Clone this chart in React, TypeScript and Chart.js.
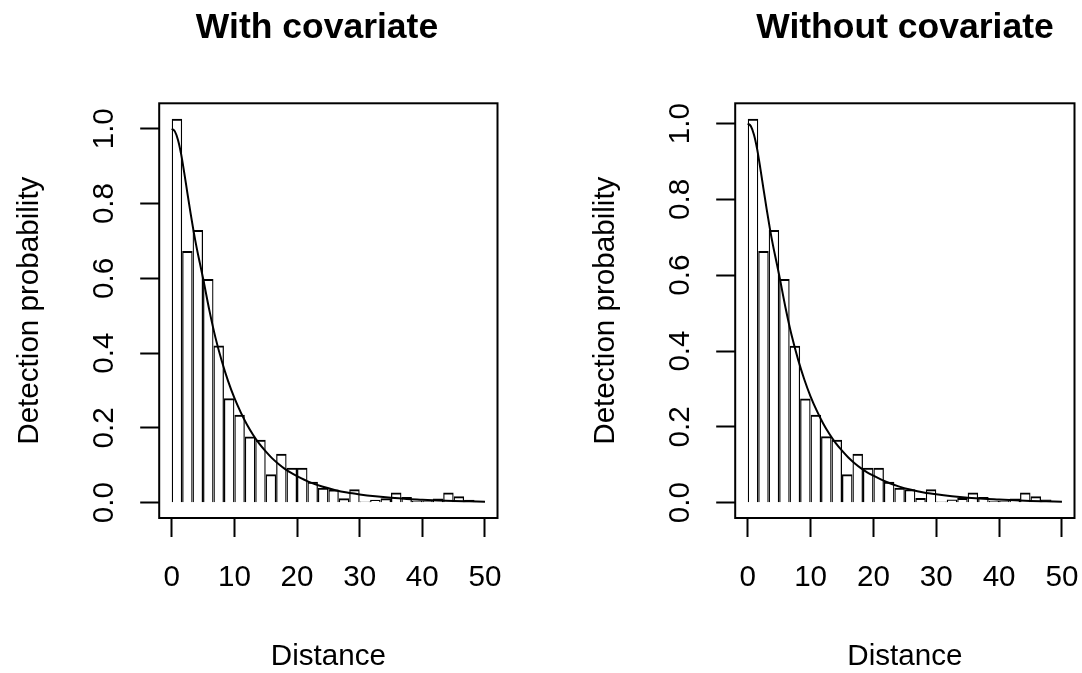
import React, { useEffect, useRef } from 'react';
import { Chart, registerables } from 'chart.js';

Chart.register(...registerables);

// ---- data ----
const binWidth = 50 / 30;
const barsWith = [1.027, 0.673, 0.729, 0.598, 0.42, 0.279, 0.235, 0.177, 0.168, 0.076, 0.131, 0.093, 0.093, 0.056, 0.04, 0.035, 0.012, 0.036, 0.003, 0.008, 0.012, 0.027, 0.015, 0.005, 0.005, 0.011, 0.027, 0.017, 0.008, 0.003];
const barsWithout = [1.013, 0.664, 0.719, 0.59, 0.414, 0.275, 0.232, 0.175, 0.166, 0.075, 0.129, 0.092, 0.092, 0.055, 0.039, 0.035, 0.012, 0.035, 0.003, 0.008, 0.012, 0.027, 0.015, 0.005, 0.005, 0.011, 0.027, 0.017, 0.008, 0.003];
const curveX = [0, 0.5, 1, 1.5, 2, 2.5, 3, 3.5, 4, 4.5, 5, 6, 7, 8, 9, 10, 11, 12, 13, 14, 15, 16, 17, 18, 19, 20, 22, 24, 26, 28, 30, 32.5, 35, 37.5, 40, 42.5, 45, 47.5, 50];
const curveWith = [1.0, 0.993, 0.97, 0.932, 0.882, 0.828, 0.775, 0.725, 0.68, 0.64, 0.6, 0.515, 0.44, 0.378, 0.325, 0.28, 0.242, 0.209, 0.181, 0.157, 0.137, 0.119, 0.104, 0.091, 0.08, 0.071, 0.055, 0.043, 0.034, 0.027, 0.022, 0.017, 0.013, 0.01, 0.008, 0.006, 0.0045, 0.0035, 0.0025];
const curveWithout = [1.0, 0.993, 0.97, 0.932, 0.882, 0.828, 0.775, 0.725, 0.68, 0.64, 0.6, 0.515, 0.44, 0.378, 0.325, 0.28, 0.242, 0.209, 0.181, 0.157, 0.137, 0.119, 0.104, 0.091, 0.08, 0.071, 0.055, 0.043, 0.034, 0.027, 0.022, 0.017, 0.013, 0.01, 0.008, 0.006, 0.0045, 0.0035, 0.0025];
const xTicks = [0, 10, 20, 30, 40, 50];
const yTicks = [0, 0.2, 0.4, 0.6, 0.8, 1.0];
const xLabel = 'Distance';
const yLabel = 'Detection probability';

const FONT = '"Liberation Sans", Arial, Helvetica, sans-serif';
const W = 1082;
const H = 673;

const framePlugin = {
  id: 'frame',
  afterDraw(chart: any, _args: any, opts: any) {
    const { ctx, chartArea: a } = chart;
    ctx.save();
    ctx.strokeStyle = '#000';
    ctx.lineWidth = 2;
    ctx.strokeRect(a.left, a.top, a.right - a.left, a.bottom - a.top);
    ctx.fillStyle = '#000';
    ctx.font = `bold 35.5px ${FONT}`;
    ctx.textAlign = 'center';
    ctx.textBaseline = 'alphabetic';
    ctx.fillText(opts.text, opts.x, 38.3);
    ctx.restore();
  },
};

function Panel(props: { left: number; width: number; bars: number[]; curve: number[]; title: string; titleX: number; padRight: number }) {
  const ref = useRef<HTMLCanvasElement | null>(null);
  useEffect(() => {
    const canvas = ref.current;
    if (!canvas) return;
    const m = Math.max(...props.bars);
    const chart = new Chart(canvas, {
      type: 'bar',
      data: {
        datasets: [
          {
            type: 'line',
            data: curveX.map((x, i) => ({ x, y: props.curve[i] })),
            borderColor: '#000',
            borderWidth: 2,
            pointRadius: 0,
            fill: false,
            cubicInterpolationMode: 'monotone',
          } as any,
          {
            type: 'bar',
            data: props.bars.map((v, i) => ({ x: (i + 0.5) * binWidth, y: v })),
            backgroundColor: 'rgba(0,0,0,0)',
            borderColor: '#000',
            borderWidth: { top: 2, left: 1.25, right: 1.25, bottom: 0 },
            borderSkipped: false,
            barPercentage: 1,
            categoryPercentage: 1,
            inflateAmount: 0,
          } as any,
        ],
      },
      options: {
        animation: false,
        responsive: false,
        maintainAspectRatio: false,
        devicePixelRatio: 1,
        layout: { padding: { left: 0, right: props.padRight, top: 103.3, bottom: 0 } },
        plugins: {
          legend: { display: false },
          tooltip: { enabled: false },
          frame: { text: props.title, x: props.titleX },
        } as any,
        scales: {
          x: {
            type: 'linear',
            min: -2,
            max: 52,
            offset: false,
            afterFit: (s: any) => { s.height = H - 518; s.paddingLeft = 0; s.paddingRight = 0; },
            afterBuildTicks: (s: any) => { s.ticks = xTicks.map((v) => ({ value: v })); },
            grid: { display: true, offset: false, drawOnChartArea: false, drawTicks: true, tickLength: 19, tickWidth: 2, tickColor: '#000' },
            border: { display: false },
            ticks: { color: '#000', font: { family: FONT, size: 29.6 }, padding: 23, maxRotation: 0, minRotation: 0, autoSkip: false },
            title: { display: true, text: xLabel, color: '#000', font: { family: FONT, size: 29.6 }, padding: { top: 0, bottom: -2 } },
          },
          y: {
            type: 'linear',
            min: -0.04 * m,
            max: 1.04 * m,
            afterFit: (s: any) => { s.width = 159.2; s.paddingTop = 0; s.paddingBottom = 0; },
            afterBuildTicks: (s: any) => { s.ticks = yTicks.map((v) => ({ value: v })); },
            grid: { display: true, drawOnChartArea: false, drawTicks: true, tickLength: 19, tickWidth: 2, tickColor: '#000' },
            border: { display: false },
            ticks: {
              color: '#000', font: { family: FONT, size: 29.6 }, padding: 15, minRotation: 90, maxRotation: 90,
              crossAlign: 'center', autoSkip: false,
              callback: (v: any) => Number(v).toFixed(1),
            },
            title: { display: true, text: yLabel, color: '#000', font: { family: FONT, size: 29.6 }, padding: { top: 12, bottom: 0 } },
          },
        },
      } as any,
      plugins: [framePlugin as any],
    });
    return () => chart.destroy();
  }, []);
  return (
    <canvas
      ref={ref}
      width={props.width}
      height={H}
      style={{ position: 'absolute', left: props.left, top: 0, width: props.width, height: H }}
    />
  );
}

export default function App() {
  return (
    <div style={{ position: 'fixed', left: 0, top: 0, width: W, height: H, background: '#fff', overflow: 'hidden' }}>
      <Panel left={0} width={541} bars={barsWith} curve={curveWith} title="With covariate" titleX={317} padRight={43.5} />
      <Panel left={576} width={506} bars={barsWithout} curve={curveWithout} title="Without covariate" titleX={329} padRight={7.5} />
    </div>
  );
}
